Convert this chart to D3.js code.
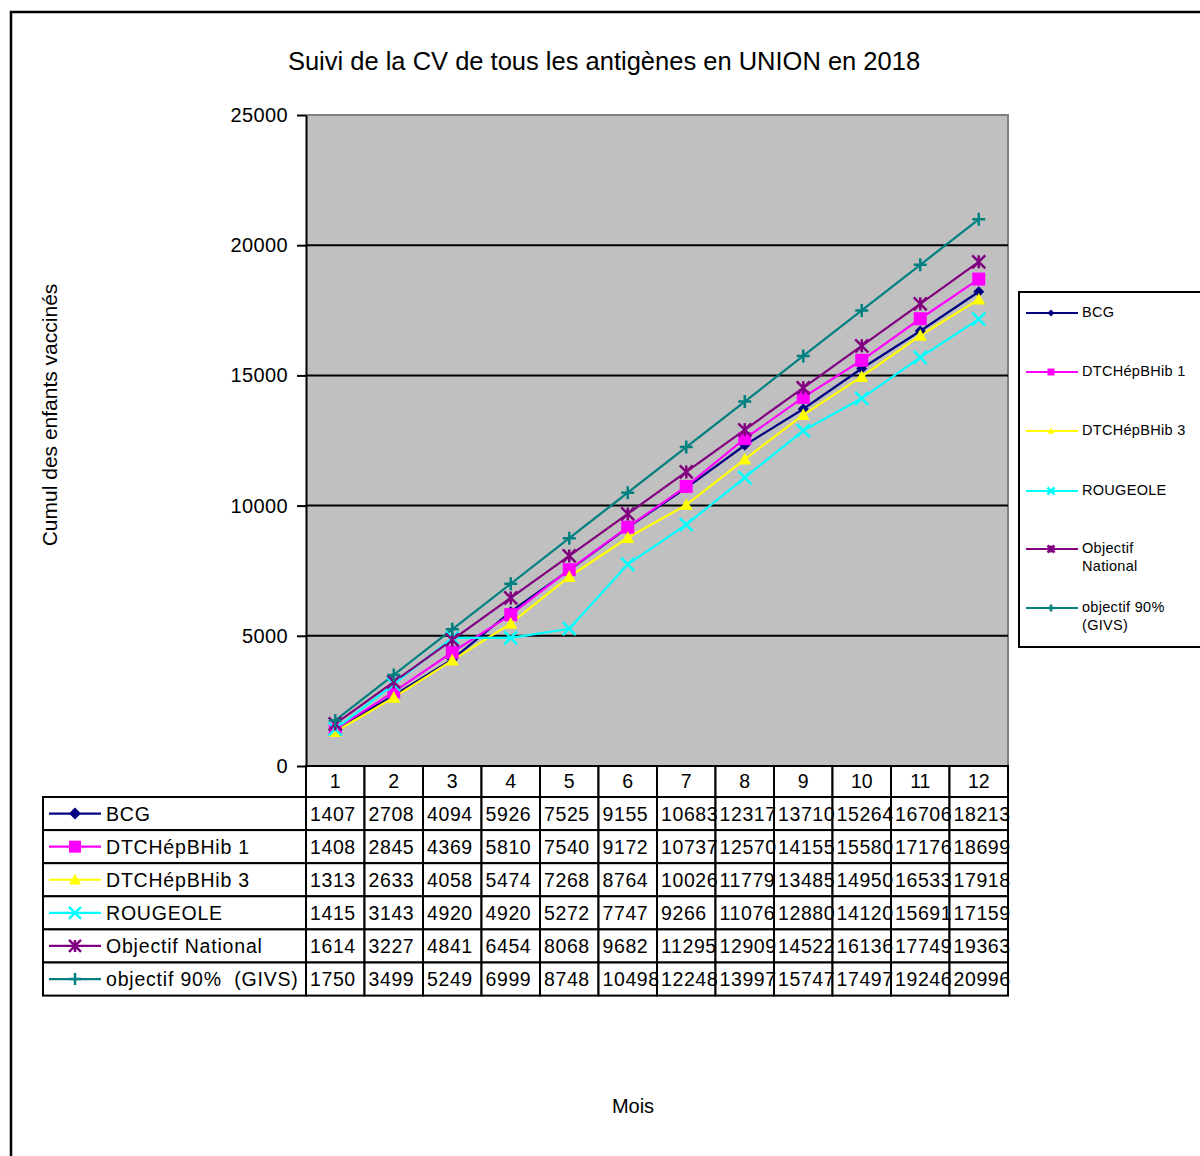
<!DOCTYPE html>
<html>
<head>
<meta charset="utf-8">
<script src="https://cdn.jsdelivr.net/npm/d3@7"></script>
<style>
  html, body { margin: 0; padding: 0; background: #fff; }
  svg { display: block; font-family: "Liberation Sans", Arial, sans-serif; }
</style>
</head>
<body>
<svg id="chart" width="1200" height="1156"></svg>
<script>
// Months of the year and cumulative vaccinated children per antigen
const months = ["1", "2", "3", "4", "5", "6", "7", "8", "9", "10", "11", "12"];
const seriesNames = ["BCG", "DTCHépBHib 1", "DTCHépBHib 3", "ROUGEOLE", "Objectif National", "objectif 90%  (GIVS)"];
const bcg = [1407, 2708, 4094, 5926, 7525, 9155, 10683, 12317, 13710, 15264, 16706, 18213];
const dtc1 = [1408, 2845, 4369, 5810, 7540, 9172, 10737, 12570, 14155, 15580, 17176, 18699];
const dtc3 = [1313, 2633, 4058, 5474, 7268, 8764, 10026, 11779, 13485, 14950, 16533, 17918];
const rougeole = [1415, 3143, 4920, 4920, 5272, 7747, 9266, 11076, 12880, 14120, 15691, 17159];
const objNational = [1614, 3227, 4841, 6454, 8068, 9682, 11295, 12909, 14522, 16136, 17749, 19363];
const obj90 = [1750, 3499, 5249, 6999, 8748, 10498, 12248, 13997, 15747, 17497, 19246, 20996];
const yTicks = [0, 5000, 10000, 15000, 20000, 25000];
const legendLines = [["BCG"], ["DTCHépBHib 1"], ["DTCHépBHib 3"], ["ROUGEOLE"], ["Objectif", "National"], ["objectif 90%", "(GIVS)"]];

const seriesValues = [bcg, dtc1, dtc3, rougeole, objNational, obj90];
const colors = ["#000080", "#FF00FF", "#FFFF00", "#00FFFF", "#800080", "#008080"];
const markers = ["diamond", "square", "triangle", "cross", "asterisk", "plus"];

const svg = d3.select("#chart");

// Outer frame
svg.append("rect").attr("x", 11).attr("y", 12).attr("width", 1200).attr("height", 1200)
  .attr("fill", "none").attr("stroke", "#000").attr("stroke-width", 2.5);

// Title
svg.append("text").attr("x", 604).attr("y", 70).attr("text-anchor", "middle")
  .attr("font-size", 25.5).text("Suivi de la CV de tous les antigènes en UNION en 2018");

const plotLeft = 306, plotRight = 1008, plotTop = 115, plotBottom = 766;
const x = d3.scaleBand().domain(months).range([plotLeft, plotRight]).padding(0);
const y = d3.scaleLinear().domain([0, 25000]).range([plotBottom, plotTop]);
const cx = m => x(m) + x.bandwidth() / 2;

// Plot background
svg.append("rect").attr("x", plotLeft).attr("y", plotTop).attr("width", plotRight - plotLeft).attr("height", plotBottom - plotTop)
  .attr("fill", "#C0C0C0");
svg.append("path").attr("d", `M${plotLeft},${plotTop}H${plotRight}V${plotBottom}`)
  .attr("fill", "none").attr("stroke", "#808080").attr("stroke-width", 2);

// Gridlines
svg.append("g").selectAll("line").data(yTicks.filter(t => t > 0 && t < 25000)).join("line")
  .attr("x1", plotLeft).attr("x2", plotRight).attr("y1", d => y(d)).attr("y2", d => y(d))
  .attr("stroke", "#000").attr("stroke-width", 2);

// Y axis
const yAxis = svg.append("g").attr("transform", `translate(${plotLeft},0)`)
  .call(d3.axisLeft(y).tickValues(yTicks).tickSize(9).tickSizeOuter(0).tickFormat(d3.format("d")).tickPadding(9));
yAxis.select(".domain").attr("stroke", "#000").attr("stroke-width", 2);
yAxis.selectAll(".tick line").attr("stroke", "#000").attr("stroke-width", 2);
yAxis.selectAll(".tick text").attr("font-size", 20).attr("fill", "#000")
  .attr("font-family", "Liberation Sans, Arial, sans-serif").attr("letter-spacing", 0.4);

// Y title
svg.append("text").attr("transform", "translate(57,415) rotate(-90)").attr("text-anchor", "middle")
  .attr("font-size", 21).text("Cumul des enfants vaccinés");

// X title
svg.append("text").attr("x", 633).attr("y", 1113).attr("text-anchor", "middle")
  .attr("font-size", 20).text("Mois");

// Marker drawing
function drawMarker(g, type, color, s) {
  const h = s / 2;
  if (type === "diamond") {
    g.append("path").attr("d", `M0,${-h}L${h},0L0,${h}L${-h},0Z`).attr("fill", color);
  } else if (type === "square") {
    g.append("rect").attr("x", -h).attr("y", -h).attr("width", s).attr("height", s).attr("fill", color);
  } else if (type === "triangle") {
    g.append("path").attr("d", `M0,${-h}L${h},${h * 0.8}L${-h},${h * 0.8}Z`).attr("fill", color);
  } else if (type === "cross") {
    g.append("path").attr("d", `M${-h},${-h}L${h},${h}M${-h},${h}L${h},${-h}`).attr("stroke", color).attr("stroke-width", 2.5);
  } else if (type === "asterisk") {
    g.append("path").attr("d", `M${-h},${-h}L${h},${h}M${-h},${h}L${h},${-h}M0,${-h}V${h}`).attr("stroke", color).attr("stroke-width", 2.5);
  } else if (type === "plus") {
    g.append("path").attr("d", `M0,${-h}V${h}M${-h},0H${h}`).attr("stroke", color).attr("stroke-width", 2.5);
  }
}

// Series lines and markers
const line = d3.line().x((d, i) => cx(months[i])).y(d => y(d));
const plot = svg.append("g");
seriesValues.forEach((vals, si) => {
  plot.append("path").datum(vals).attr("d", line).attr("fill", "none")
    .attr("stroke", colors[si]).attr("stroke-width", 2.2);
});
seriesValues.forEach((vals, si) => {
  vals.forEach((v, i) => {
    const g = plot.append("g").attr("transform", `translate(${cx(months[i])},${y(v)})`);
    drawMarker(g, markers[si], colors[si], si === 0 ? 11 : 13);
  });
});

// Data table
const headerTop = plotBottom, headerH = 31, rowH = 33.1, labelLeft = 43;
const table = svg.append("g");
const rowTop = i => headerTop + headerH + i * rowH;
months.forEach(m => {
  table.append("rect").attr("x", x(m)).attr("y", headerTop).attr("width", x.bandwidth()).attr("height", headerH)
    .attr("fill", "#fff").attr("stroke", "#000").attr("stroke-width", 2);
  table.append("text").attr("x", cx(m)).attr("y", headerTop + 22).attr("text-anchor", "middle")
    .attr("font-size", 19.5).text(m);
});
seriesValues.forEach((vals, si) => {
  const ty = rowTop(si);
  table.append("rect").attr("x", labelLeft).attr("y", ty).attr("width", plotLeft - labelLeft).attr("height", rowH)
    .attr("fill", "#fff").attr("stroke", "#000").attr("stroke-width", 2);
  months.forEach(m => {
    table.append("rect").attr("x", x(m)).attr("y", ty).attr("width", x.bandwidth()).attr("height", rowH)
      .attr("fill", "#fff").attr("stroke", "#000").attr("stroke-width", 2);
  });
});
seriesValues.forEach((vals, si) => {
  const ty = rowTop(si);
  const midY = ty + rowH / 2;
  table.append("line").attr("x1", 49).attr("x2", 101).attr("y1", midY).attr("y2", midY)
    .attr("stroke", colors[si]).attr("stroke-width", 2.2);
  drawMarker(table.append("g").attr("transform", `translate(75,${midY})`), markers[si], colors[si], 12);
  table.append("text").attr("x", 106).attr("y", midY + 7).attr("font-size", 19.5)
    .attr("letter-spacing", 0.8).attr("xml:space", "preserve").text(seriesNames[si]);
  vals.forEach((v, i) => {
    table.append("text").attr("x", x(months[i]) + 4).attr("y", midY + 7).attr("font-size", 19.5)
      .attr("letter-spacing", 0.6).text(v);
  });
});

// Side legend
const lg = svg.append("g");
lg.append("rect").attr("x", 1019).attr("y", 292).attr("width", 200).attr("height", 355)
  .attr("fill", "#fff").attr("stroke", "#000").attr("stroke-width", 2);
const legendY = [311, 370, 429, 489, 547, 606];
legendLines.forEach((lines, si) => {
  const ly = legendY[si];
  lg.append("line").attr("x1", 1026).attr("x2", 1078).attr("y1", ly + 2).attr("y2", ly + 2)
    .attr("stroke", colors[si]).attr("stroke-width", 2);
  drawMarker(lg.append("g").attr("transform", `translate(1051,${ly + 2})`), markers[si], colors[si], 7);
  lines.forEach((t, k) => {
    lg.append("text").attr("x", 1082).attr("y", ly + 6 + k * 18).attr("font-size", 14.5)
      .attr("letter-spacing", 0.3).text(t);
  });
});
</script>
</body>
</html>
